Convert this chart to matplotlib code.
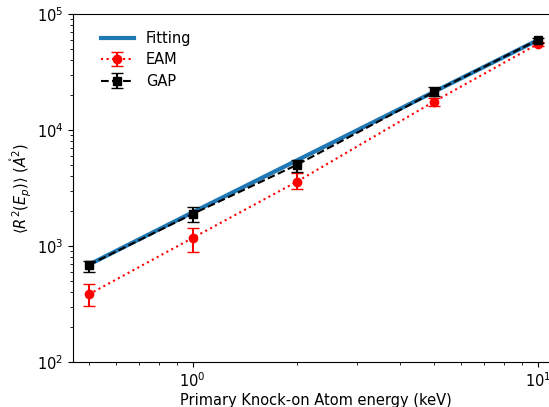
import matplotlib
matplotlib.use("Agg")
import matplotlib.pyplot as plt

# energia del PKA (keV)
energia = [0.5, 1, 2, 5, 10]

# ajuste ley de potencia
ajuste = [690, 1950, 5450, 21300, 59500]

# EAM
eam = [383, 1173, 3570, 17540, 55100]
eam_inf = [79, 286, 470, 1440, 2500]
eam_sup = [84, 257, 690, 1460, 2500]

# GAP
gap = [686, 1888, 4990, 21280, 59700]
gap_inf = [86, 278, 640, 1500, 3000]
gap_sup = [61, 280, 520, 2070, 3000]

fig = plt.figure(figsize=(5.49, 4.07), dpi=100)
ax = fig.add_axes([0.133, 0.1106, 0.8845, 0.855])

ax.plot(energia, ajuste, color="#1f77b4", linewidth=3, label="Fitting", zorder=1)
ax.errorbar(energia, eam, yerr=[eam_inf, eam_sup], color="red", linestyle=":",
            marker="o", markersize=6, capsize=4, label="EAM", zorder=2)
ax.errorbar(energia, gap, yerr=[gap_inf, gap_sup], color="black", linestyle="--",
            marker="s", markersize=6, capsize=4, label="GAP", zorder=3)

ax.set_xscale("log")
ax.set_yscale("log")
ax.set_xlim(0.45, 11.5)
ax.set_ylim(100, 100000)

ax.set_xlabel("Primary Knock-on Atom energy (keV)", fontsize=10.5, labelpad=2)
ax.set_ylabel(r"$\langle R^2(E_p)\rangle$ $(\mathring{A}^2)$", fontsize=10.5, labelpad=2)
ax.tick_params(labelsize=10.5)

ax.legend(loc="upper left", frameon=False, bbox_to_anchor=(0.03, 0.99),
          fontsize=10.5, handlelength=2.3, labelspacing=0.45)

fig.savefig("out.png", dpi=100)
